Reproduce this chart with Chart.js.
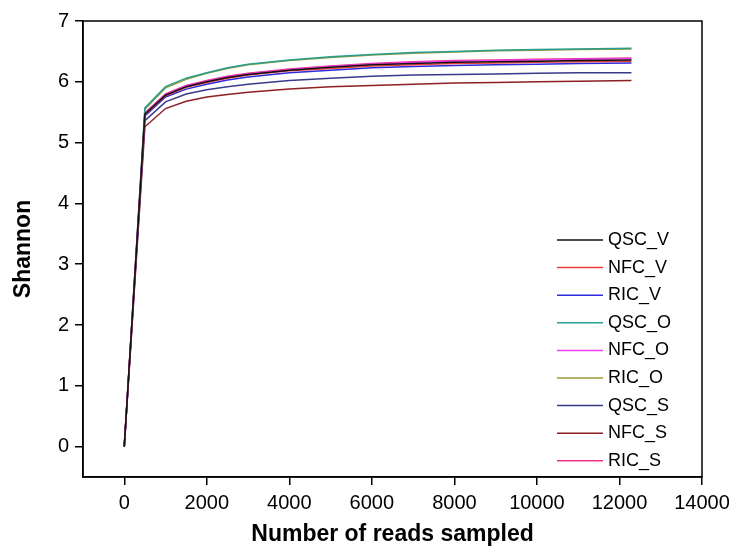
<!DOCTYPE html>
<html>
<head>
<meta charset="utf-8">
<script src="https://cdn.jsdelivr.net/npm/chart.js@4/dist/chart.umd.min.js"></script>
<style>
  html, body { margin: 0; padding: 0; background: #fff; }
  #wrap { width: 737px; height: 552px; }
</style>
</head>
<body>
<div id="wrap"><canvas id="chart" width="737" height="552"></canvas></div>
<script>
const READS = [0, 500, 1000, 1500, 2000, 2500, 3000, 4000, 5000, 6000, 7000, 8000, 9000, 10000, 11000, 12290];
const X_TICKS = [0, 2000, 4000, 6000, 8000, 10000, 12000, 14000];
const Y_TICKS = [0, 1, 2, 3, 4, 5, 6, 7];

const QSC_V = [0, 5.47, 5.78, 5.92, 6.00, 6.07, 6.12, 6.19, 6.24, 6.28, 6.30, 6.32, 6.33, 6.34, 6.35, 6.36];
const NFC_V = [0, 5.46, 5.77, 5.91, 5.99, 6.06, 6.11, 6.18, 6.22, 6.26, 6.28, 6.30, 6.31, 6.32, 6.33, 6.34];
const RIC_V = [0, 5.44, 5.75, 5.88, 5.96, 6.03, 6.08, 6.15, 6.19, 6.23, 6.25, 6.27, 6.28, 6.29, 6.30, 6.31];
const QSC_O = [0, 5.57, 5.92, 6.06, 6.15, 6.23, 6.29, 6.36, 6.41, 6.45, 6.48, 6.50, 6.52, 6.53, 6.54, 6.55];
const NFC_O = [0, 5.48, 5.79, 5.93, 6.01, 6.08, 6.13, 6.20, 6.25, 6.29, 6.32, 6.34, 6.35, 6.36, 6.37, 6.38];
const RIC_O = [0, 5.55, 5.90, 6.04, 6.14, 6.22, 6.28, 6.35, 6.40, 6.44, 6.47, 6.49, 6.51, 6.52, 6.53, 6.54];
const QSC_S = [0, 5.36, 5.67, 5.80, 5.87, 5.92, 5.96, 6.02, 6.06, 6.09, 6.11, 6.12, 6.13, 6.14, 6.15, 6.15];
const NFC_S = [0, 5.26, 5.56, 5.68, 5.75, 5.79, 5.83, 5.88, 5.92, 5.94, 5.96, 5.98, 5.99, 6.00, 6.01, 6.02];
const RIC_S = [0, 5.49, 5.80, 5.94, 6.02, 6.09, 6.14, 6.21, 6.26, 6.30, 6.33, 6.35, 6.36, 6.37, 6.38, 6.39];

const SERIES = [
    ['QSC_V', QSC_V, '#111111'],
    ['NFC_V', NFC_V, '#e83c3c'],
    ['RIC_V', RIC_V, '#2c2cdc'],
    ['QSC_O', QSC_O, '#2a9d8f'],
    ['NFC_O', NFC_O, '#f040f0'],
    ['RIC_O', RIC_O, '#9a9a38'],
    ['QSC_S', QSC_S, '#3a3a8c'],
    ['NFC_S', NFC_S, '#8e1f24'],
    ['RIC_S', RIC_S, '#f0308a']
];

const FONT = 'Liberation Sans, Arial, sans-serif';

// legend drawn inside the plot, lower right
const innerLegend = {
    id: 'innerLegend',
    afterDraw(chart){
        const ctx = chart.ctx;
        const area = chart.chartArea;
        const x0 = area.right - 145;
        let y = area.bottom - 237;
        ctx.save();
        ctx.font = '18px ' + FONT;
        ctx.textBaseline = 'middle';
        chart.data.datasets.forEach(ds => {
            ctx.strokeStyle = ds.borderColor;
            ctx.lineWidth = 1.5;
            ctx.beginPath();
            ctx.moveTo(x0, y);
            ctx.lineTo(x0 + 46, y);
            ctx.stroke();
            ctx.fillStyle = '#000';
            ctx.fillText(ds.label, x0 + 51, y);
            y += 27.6;
        });
        ctx.restore();
    }
};

// top and right edges of the box
const boxFrame = {
    id: 'boxFrame',
    afterDatasetsDraw(chart){
        const ctx = chart.ctx;
        const a = chart.chartArea;
        ctx.save();
        ctx.strokeStyle = '#000';
        ctx.lineWidth = 1.5;
        ctx.strokeRect(a.left, a.top, a.right - a.left, a.bottom - a.top);
        ctx.restore();
    }
};

new Chart(document.getElementById('chart').getContext('2d'), {
    type: 'line',
    data: {
        datasets: SERIES.map(([label, values, color]) => ({
            label: label,
            data: values.map((v, i) => ({x: READS[i], y: v})),
            borderColor: color,
            backgroundColor: color,
            borderWidth: 1.5,
            pointRadius: 0,
            fill: false,
            tension: 0
        }))
    },
    options: {
        responsive: false,
        animation: false,
        layout: { padding: { top: 21, right: 35, left: 0, bottom: 0 } },
        plugins: {
            legend: { display: false },
            tooltip: { enabled: false }
        },
        scales: {
            x: {
                type: 'linear',
                min: -1000,
                max: 14000,
                afterBuildTicks: s => { s.ticks = X_TICKS.map(v => ({value: v})); },
                afterFit: s => { s.height = 75; },
                grid: { display: true, drawOnChartArea: false, drawTicks: true, tickLength: 8, color: '#000', lineWidth: 1.5 },
                border: { display: true, color: '#000', width: 1.5 },
                ticks: { color: '#000', font: { family: FONT, size: 20 }, padding: 6, maxRotation: 0, callback: v => String(v) },
                title: { display: true, text: 'Number of reads sampled', color: '#000', font: { family: FONT, size: 23, weight: 'bold' }, padding: { top: 8 } }
            },
            y: {
                type: 'linear',
                min: -0.5,
                max: 7,
                afterBuildTicks: s => { s.ticks = Y_TICKS.map(v => ({value: v})); },
                afterFit: s => { s.width = 83; },
                grid: { display: true, drawOnChartArea: false, drawTicks: true, tickLength: 8, color: '#000', lineWidth: 1.5 },
                border: { display: true, color: '#000', width: 1.5 },
                ticks: { color: '#000', font: { family: FONT, size: 20 }, padding: 6, callback: v => String(v) },
                title: { display: true, text: 'Shannon', color: '#000', font: { family: FONT, size: 23, weight: 'bold' }, padding: { top: 10, bottom: 8 } }
            }
        }
    },
    plugins: [boxFrame, innerLegend]
});
</script>
</body>
</html>
